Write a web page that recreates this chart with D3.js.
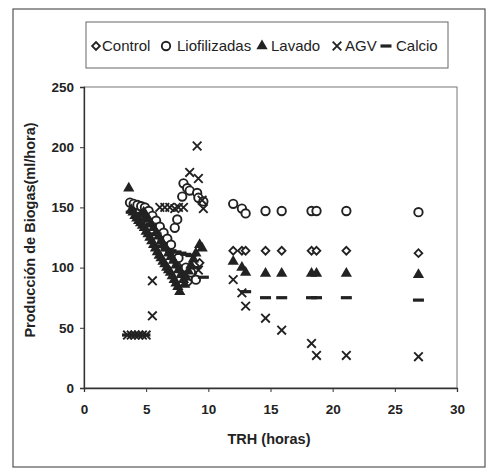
<!DOCTYPE html>
<html>
<head>
<meta charset="utf-8">
<script src="https://cdn.jsdelivr.net/npm/d3@7"></script>
<style>
  body { margin: 0; background: #fff; }
  text { font-family: "Liberation Sans", Arial, sans-serif; fill: #222; }
</style>
</head>
<body>
<svg id="chart" width="490" height="469"></svg>
<script>
// series: [TRH, produccion]
const control = [
  [3.9, 153], [4.2, 151], [4.5, 150], [4.8, 148], [5.1, 146], [5.4, 141], [5.7, 135],
  [6.0, 129], [6.3, 123], [6.6, 117], [6.9, 112], [7.2, 107], [7.5, 102], [7.8, 98],
  [8.1, 94], [8.4, 88], [8.7, 95], [9.3, 104],
  [12.0, 114], [12.7, 114], [13.0, 114], [14.6, 114], [15.9, 114],
  [18.3, 114], [18.7, 114], [21.1, 114], [26.9, 112]
];
const liofilizadas = [
  [3.7, 154], [4.0, 153], [4.3, 152], [4.6, 151], [4.9, 150], [5.2, 147], [5.5, 143],
  [5.8, 139], [6.1, 134], [6.4, 129], [6.7, 124], [7.0, 119], [7.3, 133], [7.5, 140],
  [7.9, 159], [8.0, 170], [8.3, 166], [8.5, 164], [9.1, 162], [9.2, 158], [9.6, 155],
  [8.6, 96], [9.0, 90], [8.2, 100], [7.6, 108],
  [12.0, 153], [12.7, 149], [13.0, 145], [14.6, 147], [15.9, 147],
  [18.3, 147], [18.7, 147], [21.1, 147], [26.9, 146]
];
const lavado = [
  [3.6, 166],
  [3.8, 148], [3.95, 146], [4.1, 143], [4.25, 141], [4.4, 139], [4.55, 137], [4.7, 135],
  [4.85, 133], [5.0, 130], [5.15, 128], [5.3, 125], [5.45, 122], [5.6, 119], [5.75, 116],
  [5.9, 113], [6.05, 110], [6.2, 108], [6.35, 105], [6.5, 103], [6.65, 100], [6.8, 98],
  [6.95, 96], [7.1, 93], [7.25, 90], [7.4, 87], [7.55, 84], [7.7, 80],
  [4.8, 146], [5.0, 143], [5.2, 140], [5.4, 136], [5.6, 133], [5.8, 129], [6.0, 126],
  [6.2, 122], [6.4, 119], [6.6, 116], [6.8, 112], [7.0, 109], [7.2, 106], [7.4, 102],
  [7.6, 98], [7.8, 94], [8.0, 90], [8.1, 86],
  [8.2, 92], [8.4, 97], [8.6, 102], [8.8, 107], [9.0, 112], [9.3, 119], [9.5, 116],
  [12.0, 105], [12.7, 100], [13.0, 96], [14.6, 95], [15.9, 95],
  [18.3, 95], [18.7, 95], [21.1, 95], [26.9, 94]
];
const agv = [
  [3.5, 44], [3.8, 44], [4.1, 44], [4.4, 44], [4.7, 44], [5.0, 44], [5.5, 60], [5.5, 89],
  [6.1, 150], [6.5, 150], [6.9, 150], [7.3, 149], [7.6, 150], [8.0, 150],
  [8.5, 179], [9.1, 201], [9.2, 174], [9.5, 156], [9.6, 149], [9.2, 98],
  [12.0, 90], [12.7, 79], [13.0, 68], [14.6, 58], [15.9, 48],
  [18.3, 37], [18.7, 27], [21.1, 27], [26.9, 26]
];
const calcio = [
  [3.5, 44], [4.0, 44], [4.5, 44], [4.9, 44],
  [3.8, 146], [4.2, 145], [4.6, 143], [5.0, 140], [5.4, 136], [5.8, 128], [6.2, 118],
  [6.6, 115], [7.0, 114], [7.4, 113], [7.8, 112], [8.2, 111], [8.6, 110], [9.0, 100],
  [9.6, 92],
  [13.0, 80], [14.6, 75], [15.9, 75], [18.3, 75], [18.7, 75], [21.1, 75], [26.9, 73]
];
const xTicks = [0, 5, 10, 15, 20, 25, 30];
const yTicks = [0, 50, 100, 150, 200, 250];
const seriesNames = ["Control", "Liofilizadas", "Lavado", "AGV", "Calcio"];

const svg = d3.select("#chart");
const ink = "#222";

// outer frame
svg.append("rect")
  .attr("x", 13).attr("y", 9).attr("width", 472).attr("height", 458)
  .attr("fill", "none").attr("stroke", "#555").attr("stroke-width", 1.2);

const plot = { left: 84, top: 87, right: 457, bottom: 388 };
const x = d3.scaleLinear().domain([0, 30]).range([plot.left, plot.right]);
const y = d3.scaleLinear().domain([0, 250]).range([plot.bottom, plot.top]);

// plot box
svg.append("rect")
  .attr("x", plot.left).attr("y", plot.top)
  .attr("width", plot.right - plot.left).attr("height", plot.bottom - plot.top)
  .attr("fill", "none").attr("stroke", "#777").attr("stroke-width", 1);

const fmt = d3.format("d");
const xAxis = svg.append("g")
  .attr("transform", `translate(0,${plot.bottom})`)
  .call(d3.axisBottom(x).tickValues(xTicks).tickFormat(fmt).tickSize(4).tickPadding(12));
const yAxis = svg.append("g")
  .attr("transform", `translate(${plot.left},0)`)
  .call(d3.axisLeft(y).tickValues(yTicks).tickFormat(fmt).tickSize(4).tickPadding(6));
[xAxis, yAxis].forEach(g => {
  g.select(".domain").attr("stroke", "#333").attr("stroke-width", 1.3);
  g.selectAll(".tick line").attr("stroke", "#333");
  g.selectAll("text").attr("fill", ink)
    .style("font-family", '"Liberation Sans", Arial, sans-serif')
    .style("font-size", "13.5px").style("font-weight", "bold");
});

svg.append("text")
  .attr("x", 269).attr("y", 444)
  .attr("text-anchor", "middle")
  .style("font-size", "14.5px").style("font-weight", "bold")
  .text("TRH (horas)");
svg.append("text")
  .attr("transform", "translate(35,230) rotate(-90)")
  .attr("text-anchor", "middle")
  .style("font-size", "14.5px").style("font-weight", "bold")
  .text("Producción de Biogas(ml/hora)");

// marker drawers
const markers = {
  Control: g => g.append("path")
    .attr("d", d3.symbol(d3.symbolSquare, 30)())
    .attr("transform", "rotate(45)")
    .attr("fill", "#fff").attr("stroke", ink).attr("stroke-width", 1.8),
  Liofilizadas: g => g.append("circle").attr("r", 4.2)
    .attr("fill", "#fff").attr("stroke", ink).attr("stroke-width", 1.9),
  Lavado: g => g.append("path")
    .attr("d", d3.symbol(d3.symbolTriangle, 55)())
    .attr("fill", ink),
  AGV: g => g.append("path")
    .attr("d", d3.symbol(d3.symbolTimes, 50)())
    .attr("fill", "none").attr("stroke", ink).attr("stroke-width", 1.9),
  Calcio: g => g.append("rect")
    .attr("x", -5.5).attr("y", -1.6).attr("width", 11).attr("height", 3.2)
    .attr("fill", ink)
};

const data = [control, liofilizadas, lavado, agv, calcio];
seriesNames.forEach((name, i) => {
  svg.append("g").selectAll("g")
    .data(data[i])
    .join("g")
    .attr("transform", d => `translate(${x(d[0])},${y(d[1])})`)
    .each(function () { markers[name](d3.select(this)); });
});

// legend
svg.append("rect")
  .attr("x", 86).attr("y", 22).attr("width", 362).attr("height", 46)
  .attr("fill", "#fff").attr("stroke", "#666").attr("stroke-width", 1);
const legendX = [
  [96, 102], [166, 177], [262, 271], [337, 345], [386, 396]
];
seriesNames.forEach((name, i) => {
  const g = svg.append("g").attr("transform", `translate(${legendX[i][0]},46)`);
  markers[name](g);
  svg.append("text")
    .attr("x", legendX[i][1]).attr("y", 51)
    .style("font-size", "15px")
    .text(name);
});
</script>
</body>
</html>
